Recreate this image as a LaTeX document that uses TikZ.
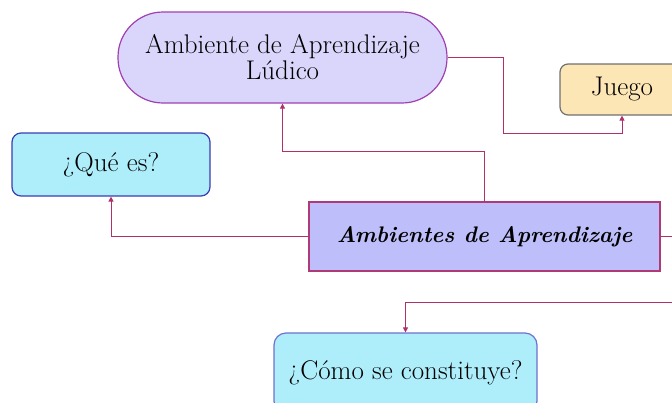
\documentclass[tikz,border=0pt]{standalone}
\usepackage{fontspec}
\usetikzlibrary{arrows.meta}
\definecolor{conn}{HTML}{B0306A}
\definecolor{ambfill}{HTML}{DAD6FB}
\definecolor{ambdraw}{HTML}{A040B0}
\definecolor{mainfill}{HTML}{BEBEFB}
\definecolor{maindraw}{HTML}{B03A78}
\definecolor{juefill}{HTML}{FDE6B6}
\definecolor{juedraw}{HTML}{707070}
\definecolor{qfill}{HTML}{AEEEFB}
\definecolor{qdraw}{HTML}{3C3CB4}
\definecolor{cdraw}{HTML}{7070D0}
\tikzset{
  conline/.style={draw=conn, line width=1pt, -{Triangle[length=5pt,width=5pt]}},
  txt/.style={font=\fontsize{27}{26}\selectfont, align=center, inner sep=0pt},
}
\begin{document}
\begin{tikzpicture}[x=1pt,y=-1pt]
\useasboundingbox (0,0) rectangle (672,402);
\clip (0,0) rectangle (672,402);
\node[txt, fill=ambfill, draw=ambdraw, line width=1.2pt, rounded corners=45pt,
  minimum width=329pt, minimum height=91pt] (amb) at (282.5,57.5)
  {Ambiente de Aprendizaje\\Lúdico};
\node[txt, fill=juefill, draw=juedraw, line width=1.2pt, rounded corners=8pt,
  minimum width=124pt, minimum height=51pt] (jue) at (622,89.5) {Juego};
\node[txt, fill=qfill, draw=qdraw, line width=1.2pt, rounded corners=9pt,
  minimum width=198pt, minimum height=63pt] (que) at (111,164.5) {¿Qué es?};
\node[txt, font=\fontsize{22.5}{25}\selectfont\bfseries\itshape, fill=mainfill, draw=maindraw, line width=1.5pt,
  minimum width=351pt, minimum height=69pt] (main) at (484.5,236.5) {Ambientes de Aprendizaje};
\node[txt, fill=qfill, draw=cdraw, line width=1.2pt, rounded corners=12pt,
  minimum width=263pt, minimum height=80pt] (como) at (405.5,373) {¿Cómo se constituye?};
\draw[conline] (amb.east) -- ++(56,0) -- ++(0,75.5) -| (jue.south);
\draw[conline] (main.north) -- ++(0,-50) -| (amb.south);
\draw[conline] (main.west) -| (que.south);
\draw[conline] (main.east) -- ++(30,0) -- ++(0,65.5) -| (como.north);
\end{tikzpicture}
\end{document}
